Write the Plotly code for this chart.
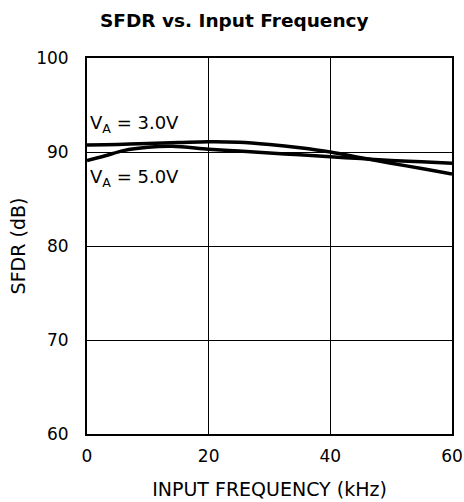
import plotly.graph_objects as go

freq_khz = [0, 5, 10, 15, 20, 25, 30, 35, 40, 45, 50, 55, 60]
sfdr_3v0 = [90.75, 90.8, 90.9, 91.0, 91.1, 91.05, 90.8, 90.45, 90.0, 89.4, 88.8, 88.25, 87.65]

freq_5v0 = [0, 3, 6, 10, 14, 20, 25, 30, 35, 40, 45, 50, 55, 60]
sfdr_5v0 = [89.1, 89.6, 90.15, 90.5, 90.6, 90.3, 90.1, 89.9, 89.7, 89.5, 89.3, 89.1, 88.95, 88.8]

font = "DejaVu Sans, Arial, sans-serif"

fig = go.Figure()
fig.add_trace(go.Scatter(x=freq_khz, y=sfdr_3v0, mode="lines",
                         line=dict(color="black", width=3.5, shape="spline"), showlegend=False))
fig.add_trace(go.Scatter(x=freq_5v0, y=sfdr_5v0, mode="lines",
                         line=dict(color="black", width=3.5, shape="spline"), showlegend=False))

fig.add_annotation(x=0.2, y=93.0, text="V<sub>A</sub> = 3.0V", showarrow=False,
                   xanchor="left", yanchor="middle", font=dict(size=18, color="black"))
fig.add_annotation(x=0.2, y=87.2, text="V<sub>A</sub> = 5.0V", showarrow=False,
                   xanchor="left", yanchor="middle", font=dict(size=18, color="black"))

fig.update_layout(
    width=464, height=502,
    margin=dict(l=87, r=12, t=58, b=68),
    paper_bgcolor="white", plot_bgcolor="white",
    font=dict(family=font, size=17, color="black"),
    title=dict(text="<b>SFDR vs. Input Frequency</b>", x=0.505, xref="container",
               y=0.96, yref="container", yanchor="middle", font=dict(size=18.5)),
)
fig.update_xaxes(range=[0, 60], tickvals=[0, 20, 40, 60], showgrid=True, gridcolor="black",
                 gridwidth=1, showline=True, linecolor="black", linewidth=2, mirror=True,
                 ticks="", zeroline=False, ticklabelstandoff=6, automargin=False,
                 title=dict(text="INPUT FREQUENCY (kHz)", font=dict(size=19), standoff=17))
fig.update_yaxes(range=[60, 100], tickvals=[60, 70, 80, 90, 100], showgrid=True, gridcolor="black",
                 gridwidth=1, showline=True, linecolor="black", linewidth=2, mirror=True,
                 ticks="", zeroline=False, ticklabelstandoff=13, automargin=False,
                 title=dict(text="SFDR (dB)", font=dict(size=19), standoff=5))

# page body has a default 8px margin; drop it so the figure sits at the window corner
fig.write_html("out.html", config={"displayModeBar": False},
               post_script="document.body.style.margin='0px';")
